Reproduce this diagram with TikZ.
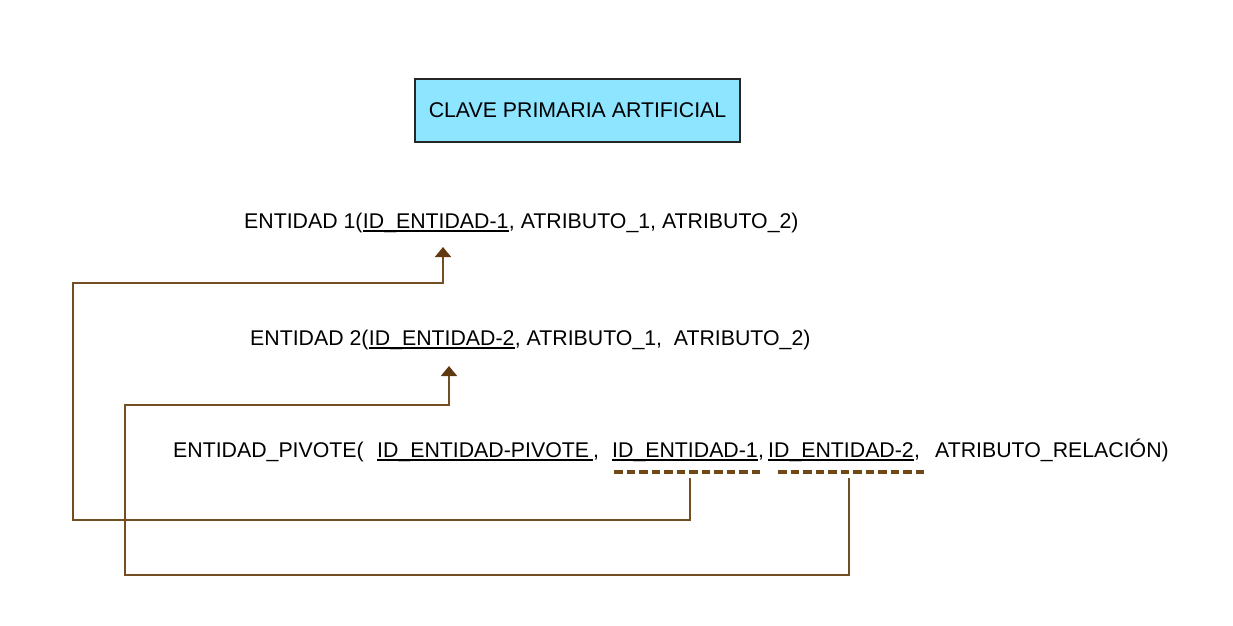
\documentclass[tikz,border=0pt]{standalone}
\usepackage{fontspec}
\setmainfont{Liberation Sans}
\usetikzlibrary{arrows.meta,calc}
\definecolor{boxfill}{RGB}{141,229,255}
\definecolor{conn}{RGB}{115,78,34}
\definecolor{tipcol}{RGB}{96,57,19}
\definecolor{fkcol}{RGB}{112,72,24}
\begin{document}
\begin{tikzpicture}[x=1pt,y=-1pt,
  txt/.style={inner sep=0pt,anchor=base west,font=\fontsize{21.3}{25}\selectfont},
  ul/.style={line width=1.3pt,black},
  fk/.style={line width=3.5pt,fkcol,dash pattern=on 8.5pt off 4pt},
  link/.style={line width=1.6pt,conn,-{Triangle[width=16pt,length=10pt,color=tipcol]}},
]
\useasboundingbox (0,0) rectangle (1233,625);
\node[draw=black!85,line width=1.5pt,fill=boxfill,minimum width=325pt,minimum height=63pt,inner sep=0pt,font=\fontsize{21.3}{25}\selectfont] (title) at (577.5,110.5) {CLAVE PRIMARIA ARTIFICIAL};
% line 1
\node[txt] (a1) at (244,228) {ENTIDAD 1(};
\node[txt] (a2) at (a1.base east) {ID\_ENTIDAD-1};
\node[txt] (a3) at (a2.base east) {, ATRIBUTO\_1, ATRIBUTO\_2)};
\draw[ul] ([yshift=-3pt]a2.base west) -- ([yshift=-3pt]a2.base east);
% line 2
\node[txt] (b1) at (250,345) {ENTIDAD 2(};
\node[txt] (b2) at (b1.base east) {ID\_ENTIDAD-2};
\node[txt] (b3) at (b2.base east) {, ATRIBUTO\_1,\ \ ATRIBUTO\_2)};
\draw[ul] ([yshift=-3pt]b2.base west) -- ([yshift=-3pt]b2.base east);
% line 3
\node[txt] (c1) at (173,457) {ENTIDAD\_PIVOTE(};
\node[txt] (c2) at (377,457) {ID\_ENTIDAD-PIVOTE\,};
\node[txt] (c3) at (c2.base east) {,};
\node[txt] (c4) at (612,457) {ID\_ENTIDAD-1};
\node[txt] (c5) at (c4.base east) {,};
\node[txt] (c6) at (768,457) {ID\_ENTIDAD-2};
\node[txt] (c7) at (c6.base east) {,};
\node[txt] (c8) at (935,457) {ATRIBUTO\_RELACIÓN)};
\draw[ul] ([yshift=-3pt]c2.base west) -- ([yshift=-3pt]c2.base east);
\draw[ul] ([yshift=-3pt]c4.base west) -- ([yshift=-3pt]c4.base east);
\draw[ul] ([yshift=-3pt]c6.base west) -- ([yshift=-3pt]c6.base east);
% foreign key dashes
\coordinate (d1a) at (614,472);
\coordinate (d1b) at (763,472);
\coordinate (d2a) at (778,472);
\coordinate (d2b) at (926,472);
\draw[fk] (d1a) -- (d1b);
\draw[fk] (d2a) -- (d2b);
% connectors
\coordinate (s1) at (690,478);
\coordinate (t1) at (443,247);
\coordinate (s2) at (849,478);
\coordinate (t2) at (449,366);
\draw[link] (s1) -- ++(0,42) -| (73,283) -| (t1);
\draw[link] (s2) -- ++(0,97) -| (125,405) -| (t2);
\end{tikzpicture}
\end{document}
